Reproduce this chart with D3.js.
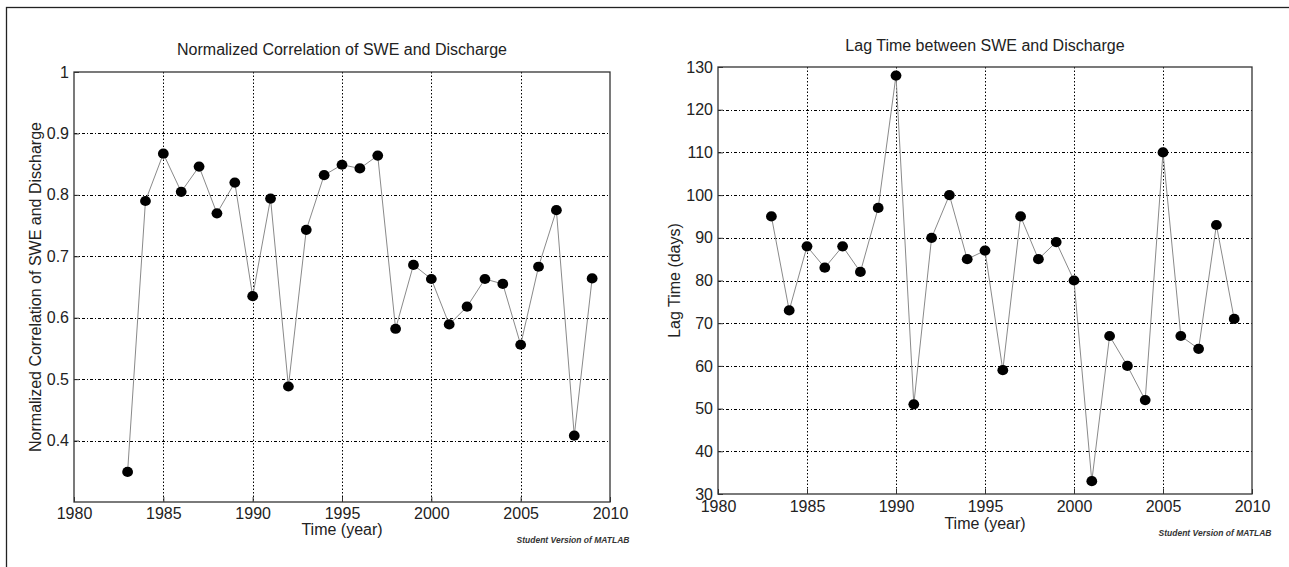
<!DOCTYPE html>
<html>
<head>
<meta charset="utf-8">
<script src="https://cdn.jsdelivr.net/npm/d3@7"></script>
<style>
  body { margin: 0; background: #fff; }
  svg { display: block; font-family: "Liberation Sans", Arial, sans-serif; }
</style>
</head>
<body>
<svg width="1289" height="567"></svg>
<script>
// data
let years = d3.range(1983, 2010)
let corrValues = [0.349, 0.790, 0.867, 0.805, 0.846, 0.770, 0.820, 0.635, 0.794, 0.488,
                  0.743, 0.832, 0.849, 0.843, 0.864, 0.582, 0.686, 0.663, 0.589, 0.618,
                  0.663, 0.655, 0.556, 0.683, 0.775, 0.408, 0.664]
let lagValues = [95, 73, 88, 83, 88, 82, 97, 128, 51, 90,
                 100, 85, 87, 59, 95, 85, 89, 80, 33, 67,
                 60, 52, 110, 67, 64, 93, 71]
let xTicks = [1980, 1985, 1990, 1995, 2000, 2005, 2010]
let corrTicks = [0.4, 0.5, 0.6, 0.7, 0.8, 0.9, 1]
let lagTicks = [30, 40, 50, 60, 70, 80, 90, 100, 110, 120, 130]

let svg = d3.select("svg")

// figure border
svg.append("rect")
   .attr("x", 6.5).attr("y", 7.5)
   .attr("width", 1300).attr("height", 600)
   .attr("fill", "none").attr("stroke", "#222").attr("stroke-width", 1.3)

let drawPanel = (opt) => {
  let xScale = d3.scaleLinear().domain([1980, 2010]).range([opt.left, opt.right])
  let yScale = d3.scaleLinear().domain(opt.yDomain).range([opt.bottom, opt.top])
  let g = svg.append("g")

  // grid
  g.selectAll(".vgrid")
   .data(xTicks.slice(1, -1))
   .enter()
   .append("line")
   .attr("x1", d => Math.round(xScale(d)) + 0.5).attr("x2", d => Math.round(xScale(d)) + 0.5)
   .attr("y1", opt.top).attr("y2", opt.bottom)
   .attr("stroke", "#000").attr("stroke-dasharray", "1.5,2")
  g.selectAll(".hgrid")
   .data(opt.yTicks.filter(d => d !== opt.yDomain[0] && d !== opt.yDomain[1]))
   .enter()
   .append("line")
   .attr("x1", opt.left).attr("x2", opt.right)
   .attr("y1", d => Math.round(yScale(d)) + 0.5).attr("y2", d => Math.round(yScale(d)) + 0.5)
   .attr("stroke", "#000").attr("stroke-dasharray", "3,2,1,2")

  // axes, MATLAB style ticks pointing inward
  let xAxis = d3.axisBottom(xScale).tickValues(xTicks).tickFormat(d3.format("d"))
                .tickSizeInner(-5).tickSizeOuter(0).tickPadding(opt.xPad)
  let yAxis = d3.axisLeft(yScale).tickValues(opt.yTicks).tickFormat(opt.fmt)
                .tickSizeInner(-5).tickSizeOuter(0).tickPadding(5)
  g.append("g")
   .attr("transform", "translate(0," + opt.bottom + ")")
   .call(xAxis)
  g.append("g")
   .attr("transform", "translate(" + opt.left + ",0)")
   .call(yAxis)
  g.selectAll(".domain").remove()
  g.selectAll(".tick line").attr("stroke", "#333")
  g.selectAll(".tick text")
   .attr("font-size", 16)
   .attr("font-family", "Liberation Sans, Arial, sans-serif")
   .attr("fill", "#222")

  g.append("rect")
   .attr("x", opt.left).attr("y", opt.top)
   .attr("width", opt.right - opt.left).attr("height", opt.bottom - opt.top)
   .attr("fill", "none").attr("stroke", "#333").attr("stroke-width", 1.3)

  // series
  let line = d3.line().x((d, i) => xScale(years[i])).y(d => yScale(d))
  g.append("path")
   .datum(opt.values)
   .attr("d", line)
   .attr("fill", "none").attr("stroke", "#8a8a8a").attr("stroke-width", 1)
  g.selectAll(".dot")
   .data(opt.values)
   .enter()
   .append("ellipse")
   .attr("cx", (d, i) => xScale(years[i]))
   .attr("cy", d => yScale(d))
   .attr("rx", 5.4).attr("ry", 5.1)
   .attr("fill", "#000")

  // texts
  g.append("text")
   .attr("x", (opt.left + opt.right) / 2).attr("y", opt.titleY)
   .attr("text-anchor", "middle").attr("font-size", 16).attr("fill", "#222")
   .text(opt.title)
  g.append("text")
   .attr("x", (opt.left + opt.right) / 2).attr("y", opt.xlabelY)
   .attr("text-anchor", "middle").attr("font-size", 16).attr("fill", "#222")
   .text("Time (year)")
  g.append("text")
   .attr("transform", "translate(" + opt.ylabelX + "," + (opt.top + opt.bottom) / 2 + ") rotate(-90)")
   .attr("text-anchor", "middle").attr("font-size", 16).attr("fill", "#222")
   .text(opt.ylabel)
  g.append("text")
   .attr("x", opt.markX).attr("y", opt.markY)
   .attr("text-anchor", "middle").attr("font-size", 8.5)
   .attr("font-weight", "bold").attr("font-style", "italic").attr("fill", "#333")
   .text("Student Version of MATLAB")
}

drawPanel({
  left: 74, right: 610, top: 72, bottom: 502, xPad: 6,
  yDomain: [0.3, 1], yTicks: corrTicks, fmt: d => d3.format("")(d),
  values: corrValues,
  title: "Normalized Correlation of SWE and Discharge", titleY: 55,
  ylabel: "Normalized Correlation of SWE and Discharge",
  ylabelX: 41, xlabelY: 535, markX: 573, markY: 543
})
drawPanel({
  left: 718, right: 1252, top: 67, bottom: 494, xPad: 7,
  yDomain: [30, 130], yTicks: lagTicks, fmt: d3.format("d"),
  values: lagValues,
  title: "Lag Time between SWE and Discharge", titleY: 51,
  ylabel: "Lag Time (days)",
  ylabelX: 680, xlabelY: 529, markX: 1215, markY: 536
})
</script>
</body>
</html>
